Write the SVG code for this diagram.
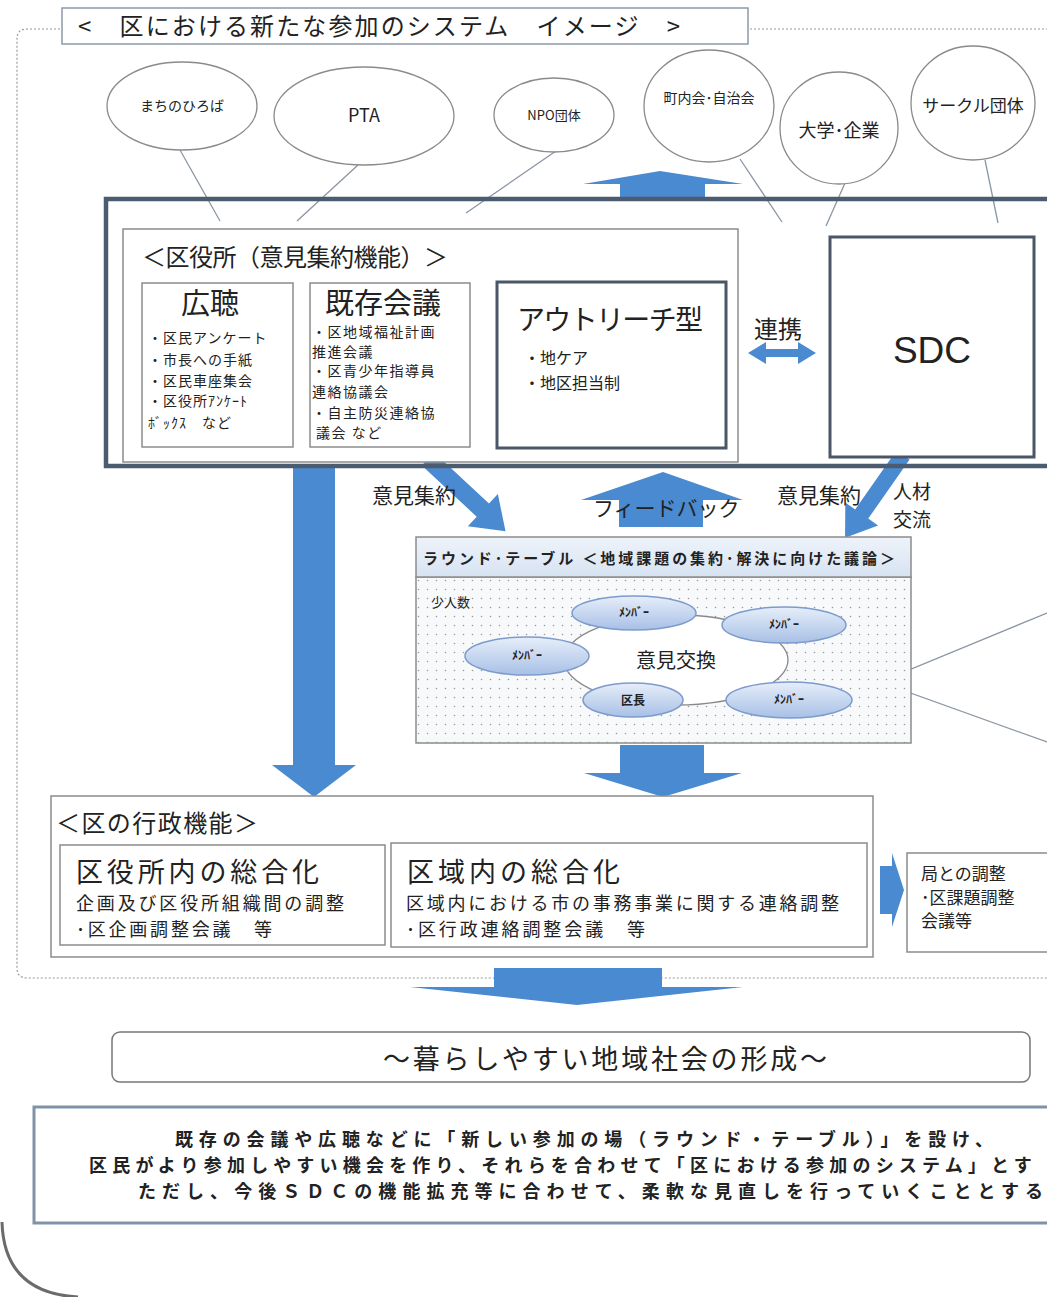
<svg xmlns="http://www.w3.org/2000/svg" width="1047" height="1297" viewBox="0 0 1047 1297">
<defs>
<style>
text{font-family:"Noto Sans CJK JP","Liberation Sans",sans-serif;fill:#222}
.org{fill:#fff;stroke:#8a8a8a;stroke-width:1.3}
.lnk{stroke:#8a96a3;stroke-width:1.3;fill:none}
.blue{fill:#4a8ad0}
.box{fill:#fff;stroke:#8c8c8c;stroke-width:1.5}
.dark{fill:#fff;stroke:#4b5666;stroke-width:3}
.mem{fill:url(#mg);stroke:#7d9bcc;stroke-width:1.5}
.mt{font-size:12px;font-weight:bold;text-anchor:middle}
</style>
<linearGradient id="mg" x1="0" y1="0" x2="0" y2="1"><stop offset="0" stop-color="#e6eef9"/><stop offset="1" stop-color="#a8c0e6"/></linearGradient>
<linearGradient id="hg" x1="0" y1="0" x2="0" y2="1"><stop offset="0" stop-color="#eef3fa"/><stop offset="1" stop-color="#d7e3f2"/></linearGradient>
<pattern id="dots" width="9" height="9" patternUnits="userSpaceOnUse"><rect width="9" height="9" fill="#f7f9fb"/><circle cx="4.5" cy="4.5" r="0.8" fill="#9a9a9a"/></pattern>
</defs>
<rect width="1047" height="1297" fill="#fff"/>

<!-- outer dotted frame -->
<path d="M1060,29 H27 Q17,29 17,39 V968 Q17,978 27,978 H1060" fill="none" stroke="#9a9a9a" stroke-width="1.2" stroke-dasharray="2,2"/>

<g id="title">
<rect x="62" y="8" width="686" height="36" fill="#fff" stroke="#8c9aa8" stroke-width="1.5"/>
<text x="78" y="35" font-size="24" textLength="602" lengthAdjust="spacing">&lt;　区における新たな参加のシステム　イメージ　&gt;</text>
</g>

<g id="connectors">
<line class="lnk" x1="180" y1="150" x2="220" y2="221"/>
<line class="lnk" x1="358" y1="165" x2="297" y2="221"/>
<line class="lnk" x1="556" y1="151" x2="466" y2="213"/>
<line class="lnk" x1="740" y1="159" x2="782" y2="222"/>
<line class="lnk" x1="845" y1="183" x2="826" y2="226"/>
<line class="lnk" x1="985" y1="160" x2="998" y2="223"/>
<!-- top up arrow -->
<polygon class="blue" points="620,198 620,184 583,184 660,171 743,184 705,184 705,198"/>
<!-- left down arrow -->
<polygon class="blue" points="293,466 335,466 335,765 356,765 314,797 272,765 293,765"/>
<!-- 意見集約 left diagonal -->
<g transform="translate(428,459) rotate(43)"><polygon class="blue" points="0,-9 75,-9 75,-22 106,0 75,22 75,9 0,9"/></g>
<!-- 意見集約 right diagonal -->
<g transform="translate(903,455) rotate(125)"><polygon class="blue" points="0,-8 72,-8 72,-20 101,0 72,20 72,8 0,8"/></g>
<!-- feedback up -->
<polygon class="blue" points="619,527 619,500 581,500 663,472 743,500 703,500 703,527"/>
<!-- 連携 double arrow -->
<polygon class="blue" points="748,353 766,342 766,349 798,349 798,342 816,353 798,364 798,357 766,357 766,364"/>
<!-- middle down arrow -->
<polygon class="blue" points="620,745 704,745 704,773 742,773 663,797 584,773 620,773"/>
<!-- right arrow -->
<polygon class="blue" points="880,866 892,866 892,853 904,890 892,927 892,914 880,914"/>
<!-- bottom arrow -->
<polygon class="blue" points="494,968 662,968 662,987 743,987 577,1005 410,987 494,987"/>
<!-- callout lines -->
<polyline class="lnk" points="1047,613 880,682 1047,742" stroke="#8a8a8a"/>
</g>

<g id="orgs">
<g id="n-machi"><ellipse class="org" cx="182" cy="106" rx="75" ry="44"/><text x="182" y="111" font-size="14" text-anchor="middle">まちのひろば</text></g>
<g id="n-pta"><ellipse class="org" cx="364" cy="116" rx="90" ry="49"/><text x="364" y="122" font-size="18" text-anchor="middle">PTA</text></g>
<g id="n-npo"><ellipse class="org" cx="554" cy="115" rx="60" ry="37"/><text x="554" y="120" font-size="13" text-anchor="middle">NPO団体</text></g>
<g id="n-chonai"><ellipse class="org" cx="709" cy="106" rx="65" ry="56"/><text x="709" y="103" font-size="14" text-anchor="middle">町内会･自治会</text></g>
<g id="n-daigaku"><ellipse class="org" cx="839" cy="128" rx="59" ry="56"/><text x="839" y="137" font-size="18" text-anchor="middle">大学･企業</text></g>
<g id="n-circle"><ellipse class="org" cx="973" cy="103" rx="62" ry="57"/><text x="973" y="112" font-size="17" text-anchor="middle">サークル団体</text></g>
</g>

<g id="frame">
<rect x="106" y="199" width="960" height="267" fill="none" stroke="#4b5b70" stroke-width="4.5"/>
</g>

<g id="kuyakusho">
<rect class="box" x="123" y="229" width="615" height="233"/>
<text x="142" y="266" font-size="24" textLength="306" lengthAdjust="spacing">＜区役所（意見集約機能）＞</text>
</g>

<g id="kocho">
<rect class="box" x="142" y="283" width="151" height="164"/>
<text x="210" y="314" font-size="29" text-anchor="middle">広聴</text>
<text font-size="14" letter-spacing="1">
<tspan x="148" y="343">・区民アンケート</tspan>
<tspan x="148" y="365">・市長への手紙</tspan>
<tspan x="148" y="386">・区民車座集会</tspan>
<tspan x="148" y="406">・区役所ｱﾝｹｰﾄ</tspan>
<tspan x="148" y="428">ﾎﾞｯｸｽ　など</tspan>
</text>
</g>

<g id="kizon">
<rect class="box" x="310" y="283" width="160" height="164"/>
<text x="325" y="314" font-size="29">既存会議</text>
<text font-size="14" letter-spacing="1.5">
<tspan x="312" y="337">・区地域福祉計画</tspan>
<tspan x="312" y="357">推進会議</tspan>
<tspan x="312" y="376">・区青少年指導員</tspan>
<tspan x="312" y="397">連絡協議会</tspan>
<tspan x="312" y="418">・自主防災連絡協</tspan>
<tspan x="316" y="438">議会 など</tspan>
</text>
</g>

<g id="outreach">
<rect class="dark" x="497" y="282" width="229" height="166"/>
<text x="517" y="330" font-size="28" textLength="186" lengthAdjust="spacing">アウトリーチ型</text>
<text x="524" y="364" font-size="16">・地ケア</text>
<text x="524" y="389" font-size="16">・地区担当制</text>
</g>

<g id="renkei-label"><text x="754" y="338" font-size="24">連携</text></g>

<g id="sdc">
<rect class="dark" x="830" y="237" width="204" height="220"/>
<text x="932" y="363" font-size="37" text-anchor="middle" style="font-family:'Liberation Sans',sans-serif">SDC</text>
</g>

<g id="labels">
<text x="372" y="503" font-size="21">意見集約</text>
<text x="593" y="516" font-size="21" fill="#333">フィードバック</text>
<text x="777" y="503" font-size="21">意見集約</text>
<text x="893" y="499" font-size="19">人材</text>
<text x="893" y="527" font-size="19">交流</text>
</g>

<g id="roundtable">
<rect x="416" y="577" width="495" height="166" fill="url(#dots)" stroke="#8c8c8c" stroke-width="1.5"/>
<rect x="416" y="537" width="495" height="40" fill="url(#hg)" stroke="#8c8c8c" stroke-width="1.5"/>
<text x="423" y="564" font-size="15" font-weight="bold" fill="#111" textLength="472" lengthAdjust="spacing">ラウンド･テーブル ＜地域課題の集約･解決に向けた議論＞</text>
<text x="431" y="607" font-size="13">少人数</text>
<ellipse cx="676" cy="660" rx="112" ry="45" fill="#fff" stroke="#8a8a8a" stroke-width="1.3"/>
<text x="676" y="668" font-size="20" text-anchor="middle">意見交換</text>
<g id="m1"><ellipse class="mem" cx="634" cy="613" rx="62" ry="17"/><text class="mt" x="634" y="617">ﾒﾝﾊﾞｰ</text></g>
<g id="m2"><ellipse class="mem" cx="784" cy="625" rx="62" ry="18"/><text class="mt" x="784" y="629">ﾒﾝﾊﾞｰ</text></g>
<g id="m3"><ellipse class="mem" cx="527" cy="656" rx="62" ry="19"/><text class="mt" x="527" y="660">ﾒﾝﾊﾞｰ</text></g>
<g id="m4"><ellipse class="mem" cx="633" cy="700" rx="50" ry="17"/><text class="mt" x="633" y="705">区長</text></g>
<g id="m5"><ellipse class="mem" cx="789" cy="700" rx="63" ry="18"/><text class="mt" x="789" y="704">ﾒﾝﾊﾞｰ</text></g>
</g>

<g id="gyosei">
<rect class="box" x="51" y="796" width="822" height="161" stroke="#9aa4ae"/>
<text x="56" y="832" font-size="24" textLength="202" lengthAdjust="spacing">＜区の行政機能＞</text>
</g>
<g id="sogo1">
<rect class="box" x="60" y="845" width="325" height="100" stroke="#666"/>
<text x="76" y="882" font-size="27" textLength="243" lengthAdjust="spacing">区役所内の総合化</text>
<text x="76" y="910" font-size="18" textLength="268" lengthAdjust="spacing">企画及び区役所組織間の調整</text>
<text x="76" y="936" font-size="18" textLength="196" lengthAdjust="spacing">･区企画調整会議　等</text>
</g>
<g id="sogo2">
<rect class="box" x="391" y="843" width="476" height="104" stroke="#666"/>
<text x="407" y="882" font-size="27" textLength="213" lengthAdjust="spacing">区域内の総合化</text>
<text x="406" y="910" font-size="18" textLength="433" lengthAdjust="spacing">区域内における市の事務事業に関する連絡調整</text>
<text x="406" y="936" font-size="18" textLength="239" lengthAdjust="spacing">･区行政連絡調整会議　等</text>
</g>
<g id="kyoku">
<rect class="box" x="907" y="853" width="160" height="99" stroke="#666"/>
<text x="921" y="880" font-size="17">局との調整</text>
<text x="921" y="904" font-size="17">･区課題調整</text>
<text x="921" y="927" font-size="17">会議等</text>
</g>

<g id="goal">
<rect x="112" y="1032" width="918" height="50" rx="8" fill="#fff" stroke="#777" stroke-width="1.5"/>
<text x="383" y="1069" font-size="27" textLength="444" lengthAdjust="spacing">～暮らしやすい地域社会の形成～</text>
</g>

<g id="summary">
<rect x="34" y="1107" width="1030" height="116" fill="#fff" stroke="#7f93a8" stroke-width="3"/>
<text font-size="18" font-weight="bold" fill="#111">
<tspan x="175" y="1146" textLength="818" lengthAdjust="spacing">既存の会議や広聴などに「新しい参加の場（ラウンド・テーブル）」を設け、</tspan>
<tspan x="89" y="1172" letter-spacing="5.2">区民がより参加しやすい機会を作り、それらを合わせて「区における参加のシステム」とす</tspan>
<tspan x="138" y="1198" textLength="905" lengthAdjust="spacing">ただし、今後ＳＤＣの機能拡充等に合わせて、柔軟な見直しを行っていくこととする</tspan>
</text>
</g>

<path d="M2,1222 Q4,1293 78,1297" fill="none" stroke="#6b6b6b" stroke-width="3"/>
</svg>
